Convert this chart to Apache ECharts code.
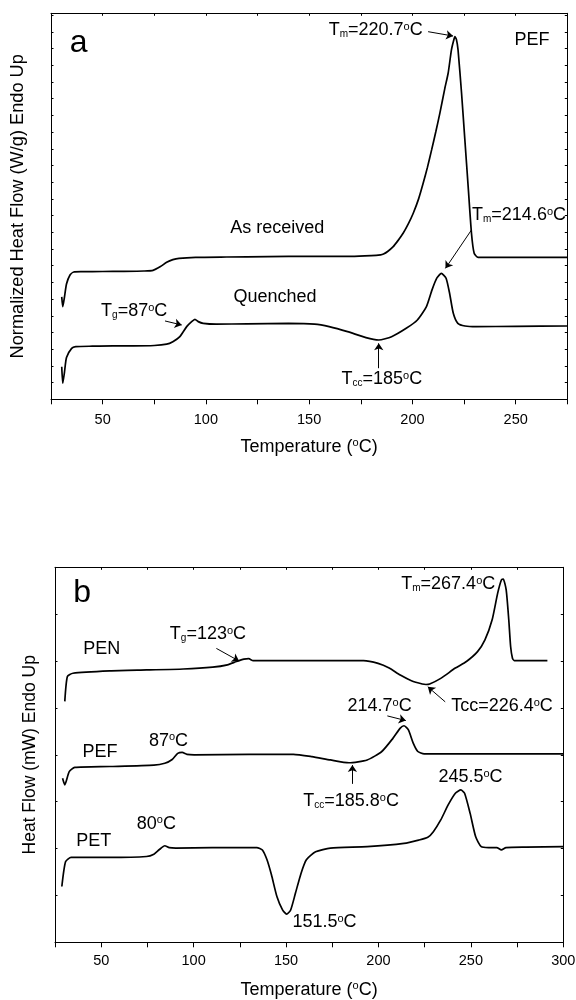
<!DOCTYPE html>
<html>
<head>
<meta charset="utf-8">
<script src="https://cdn.jsdelivr.net/npm/echarts@6/dist/echarts.min.js"></script>
<style>
  html, body { margin: 0; padding: 0; background: #fff; }
  #chart { width: 576px; height: 1000px; }
</style>
</head>
<body>
<div id="chart"></div>
<script>
const FONT = '"Liberation Sans", Arial, Helvetica, sans-serif';

// ---- panel a : PEF, heat flow in tick units ----
const recvT = [30.2, 30.7, 31.5, 32.5, 34.2, 36, 40, 50, 60, 70, 74.4, 78, 81, 84, 87, 95, 110, 130, 150, 170, 180, 184.6, 186, 188, 190.7, 193, 195.5, 198, 200.4, 203, 205.2, 207.3, 209.3, 211.3, 213.3, 215.7, 217.3, 218.9, 220, 220.6, 221.3, 222.1, 223.8, 225.4, 227, 228.6, 229.9, 231.8, 240, 260, 275];
const recvH = [6.13, 5.54, 6.1, 6.9, 7.44, 7.62, 7.64, 7.65, 7.66, 7.68, 7.72, 7.95, 8.2, 8.36, 8.44, 8.5, 8.52, 8.54, 8.56, 8.56, 8.6, 8.65, 8.7, 8.85, 9.14, 9.5, 9.94, 10.5, 11.14, 12.0, 12.93, 13.9, 14.93, 16.0, 17.13, 18.62, 19.52, 20.92, 21.5, 21.71, 21.55, 20.92, 18.32, 15.53, 12.73, 9.94, 8.74, 8.5, 8.5, 8.5, 8.5];
const quenT = [30.2, 30.7, 31.5, 32.5, 35, 37, 45, 55, 65, 75, 81, 84, 87.4, 90.7, 93.1, 94.7, 96.3, 98.7, 105, 120, 140, 152.6, 159.7, 168.6, 177.5, 183.7, 189.9, 197, 202.4, 206.8, 209.5, 211.8, 214, 216.3, 218, 219.8, 222, 225.5, 230.8, 250, 275];
const quenH = [1.95, 0.96, 1.6, 2.5, 3.05, 3.15, 3.18, 3.2, 3.2, 3.22, 3.3, 3.45, 3.75, 4.35, 4.65, 4.79, 4.65, 4.55, 4.5, 4.52, 4.54, 4.5, 4.35, 4.05, 3.69, 3.55, 3.75, 4.25, 4.75, 5.55, 6.55, 7.25, 7.54, 7.25, 6.35, 5.15, 4.55, 4.39, 4.35, 4.37, 4.39];

// ---- panel b : PEN / PEF / PET ----
const penT = [30.3, 31.7, 34.7, 54.6, 74.5, 94.4, 110.3, 118.3, 123.2, 127.2, 129.8, 132.2, 140, 170, 191.9, 199.8, 205.8, 211.8, 217.8, 223.7, 225.7, 227.7, 233.7, 241.6, 247.6, 253.6, 257.6, 261.5, 264.5, 266.5, 267.5, 269.1, 270.5, 271.5, 272.5, 273.5, 280, 291.4];
const penH = [5.14, 5.67, 5.74, 5.79, 5.81, 5.83, 5.87, 5.92, 5.99, 6.04, 6.05, 6.01, 6.01, 6.01, 6.01, 5.95, 5.85, 5.7, 5.58, 5.51, 5.5, 5.51, 5.63, 5.85, 5.99, 6.2, 6.45, 6.88, 7.45, 7.73, 7.75, 7.52, 6.88, 6.31, 6.06, 6.01, 6.01, 6.01];
const pefT = [29.1, 30.3, 32.7, 35.7, 54.6, 78.5, 84.4, 88.4, 91.4, 93.8, 96.4, 100.3, 130, 154, 164, 174, 184, 193.9, 201.8, 207.8, 211.8, 213.8, 216.2, 218.8, 221.3, 224.7, 250, 300];
const pefH = [3.5, 3.36, 3.64, 3.73, 3.75, 3.78, 3.82, 3.9, 4.03, 4.05, 4.01, 4.0, 4.01, 4.01, 3.96, 3.89, 3.83, 3.89, 4.07, 4.35, 4.57, 4.62, 4.53, 4.25, 4.07, 4.02, 4.02, 4.02];
const petT = [28.7, 30.7, 33.7, 54.6, 74.5, 78.5, 81.5, 84.4, 86.8, 90.4, 110, 134.2, 137.2, 139.7, 142.1, 145.1, 148.1, 150.3, 152.5, 155.1, 158.1, 161, 166, 174, 193.9, 213.8, 221.7, 226.7, 229.7, 233.7, 237.7, 241.6, 244.6, 246.6, 249.6, 252.6, 255.6, 259.6, 264, 266.5, 269, 280, 300];
const petH = [1.19, 1.72, 1.81, 1.81, 1.83, 1.88, 1.98, 2.06, 2.02, 2.01, 2.02, 2.02, 1.97, 1.76, 1.44, 0.97, 0.69, 0.6, 0.69, 1.05, 1.47, 1.76, 1.93, 2.01, 2.04, 2.11, 2.18, 2.24, 2.36, 2.61, 2.93, 3.18, 3.25, 3.18, 2.75, 2.25, 2.04, 2.02, 2.02, 1.97, 2.02, 2.03, 2.04];

// annotation texts, anchored in data coords [temperature, heat flow]
const notesA = [
  [38.6, 21.3, '{big|a}', 'center'],
  [258.1, 21.5, '{m|PEF}', 'center'],
  [159.7, 22.05, '{m|T}{sub|m}{m|=220.7}{sup|o}{m|C}', 'left'],
  [229.1, 10.98, '{m|T}{sub|m}{m|=214.6}{sup|o}{m|C}', 'left'],
  [112.0, 10.23, '{m|As received}', 'left'],
  [113.6, 6.07, '{m|Quenched}', 'left'],
  [49.5, 5.25, '{m|T}{sub|g}{m|=87}{sup|o}{m|C}', 'left'],
  [165.9, 1.16, '{m|T}{sub|cc}{m|=185}{sup|o}{m|C}', 'left']
];
const arrowsA = [
  [207.6, 22.01, 219.7, 21.75],
  [228.6, 10.14, 216.0, 7.84],
  [80.2, 4.69, 88.3, 4.45],
  [183.7, 1.86, 183.7, 3.35]
];
const notesB = [
  [39.9, 7.43, '{big|b}', 'center'],
  [212.6, 7.63, '{m|T}{sub|m}{m|=267.4}{sup|o}{m|C}', 'left'],
  [87.4, 6.56, '{m|T}{sub|g}{m|=123}{sup|o}{m|C}', 'left'],
  [40.6, 6.24, '{m|PEN}', 'left'],
  [239.6, 5.02, '{m|Tcc=226.4}{sup|o}{m|C}', 'left'],
  [183.5, 5.03, '{m|214.7}{sup|o}{m|C}', 'left'],
  [76.1, 4.29, '{m|87}{sup|o}{m|C}', 'left'],
  [40.2, 4.04, '{m|PEF}', 'left'],
  [159.6, 3.0, '{m|T}{sub|cc}{m|=185.8}{sup|o}{m|C}', 'left'],
  [232.7, 3.51, '{m|245.5}{sup|o}{m|C}', 'left'],
  [69.5, 2.52, '{m|80}{sup|o}{m|C}', 'left'],
  [36.7, 2.16, '{m|PET}', 'left'],
  [153.7, 0.42, '{m|151.5}{sup|o}{m|C}', 'left']
];
const arrowsB = [
  [112.3, 6.27, 124.6, 6.0],
  [236.1, 5.13, 226.7, 5.45],
  [204.8, 4.83, 214.8, 4.73],
  [185.9, 3.38, 185.9, 3.78]
];

const rich = {
  m:   { fontSize: 18, lineHeight: 18, verticalAlign: 'top', fontFamily: FONT, color: '#000' },
  sup: { fontSize: 11, lineHeight: 10, verticalAlign: 'top', fontFamily: FONT, color: '#000' },
  sub: { fontSize: 10, lineHeight: 10, verticalAlign: 'bottom', padding: [15, 0, 0, 0], fontFamily: FONT, color: '#000' },
  big: { fontSize: 32, lineHeight: 32, verticalAlign: 'top', fontFamily: FONT, color: '#000' }
};

const zip = (t, h) => t.map((v, i) => [v, h[i]]);
const black = { color: '#000', width: 1 };

function xAxes(g, max, margin) {
  return [
    {
      gridIndex: g, type: 'value', min: 25, max: max, interval: 25, position: 'bottom',
      axisLine: { show: true, onZero: false, lineStyle: black },
      axisTick: { show: true, length: 5, lineStyle: black },
      axisLabel: {
        margin: margin, color: '#000', fontSize: 14.5, fontFamily: FONT,
        formatter: v => (v % 50 === 0 ? String(v) : '')
      },
      splitLine: { show: false },
      name: '{m|Temperature (}{sup|o}{m|C)}', nameLocation: 'middle', nameGap: 38.5,
      nameTextStyle: { rich: rich }
    },
    {
      gridIndex: g, type: 'value', min: 25, max: max, interval: 25, position: 'top',
      axisLine: { show: true, onZero: false, lineStyle: black },
      axisTick: { show: true, inside: true, length: 2.5, lineStyle: black },
      axisLabel: { show: false }, splitLine: { show: false }
    }
  ];
}

function yAxes(g, max, name, gap, size) {
  return [
    {
      gridIndex: g, type: 'value', min: 0, max: max, interval: 1, position: 'left',
      axisLine: { show: true, onZero: false, lineStyle: black },
      axisTick: { show: true, inside: true, length: 2.5, lineStyle: black },
      axisLabel: { show: false }, splitLine: { show: false },
      name: name, nameLocation: 'middle', nameGap: gap, nameRotate: 90,
      nameTextStyle: { fontSize: size, fontFamily: FONT, color: '#000' }
    },
    {
      gridIndex: g, type: 'value', min: 0, max: max, interval: 1, position: 'right',
      axisLine: { show: true, onZero: false, lineStyle: black },
      axisTick: { show: true, inside: true, length: 2.5, lineStyle: black },
      axisLabel: { show: false }, splitLine: { show: false }
    }
  ];
}

function curve(t, h, xi, yi, arrows) {
  const s = {
    type: 'line', xAxisIndex: xi, yAxisIndex: yi, data: zip(t, h),
    symbol: 'none', smooth: 0.2, silent: true,
    lineStyle: { color: '#000', width: 1.7 }
  };
  if (arrows) {
    s.markLine = {
      silent: true, animation: false, symbol: ['none', 'arrow'], symbolSize: 7,
      label: { show: false },
      lineStyle: { color: '#000', width: 1, type: 'solid' },
      data: arrows.map(a => [{ coord: [a[0], a[1]] }, { coord: [a[2], a[3]] }])
    };
  }
  return s;
}

function notes(list, xi, yi) {
  return {
    type: 'scatter', xAxisIndex: xi, yAxisIndex: yi, silent: true,
    symbolSize: 1, itemStyle: { color: 'rgba(0,0,0,0)' },
    data: list.map(n => ({
      value: [n[0], n[1]],
      label: {
        show: true, position: [0, 0], align: n[3], verticalAlign: 'top',
        color: '#000', opacity: 1, textBorderWidth: 0,
        offset: [0, n[2].indexOf('{big|') === 0 ? -16 : -9],
        formatter: n[2], rich: rich
      }
    }))
  };
}

const chart = echarts.init(document.getElementById('chart'), null, { renderer: 'canvas' });
chart.setOption({
  animation: false,
  backgroundColor: '#fff',
  textStyle: { fontFamily: FONT, color: '#000' },
  grid: [
    { left: 51, top: 13.3, width: 516.3, height: 386, outerBoundsMode: 'none' },
    { left: 55, top: 567.3, width: 508.3, height: 375, outerBoundsMode: 'none' }
  ],
  xAxis: [].concat(xAxes(0, 275, 13), xAxes(1, 300, 11)),
  yAxis: [].concat(
    yAxes(0, 23.11, 'Normalized Heat Flow (W/g) Endo Up', 24, 18.2),
    yAxes(1, 8, 'Heat Flow (mW) Endo Up', 16, 17.5)
  ),
  series: [
    curve(recvT, recvH, 0, 0, arrowsA),
    curve(quenT, quenH, 0, 0, null),
    notes(notesA, 0, 0),
    curve(penT, penH, 2, 2, arrowsB),
    curve(pefT, pefH, 2, 2, null),
    curve(petT, petH, 2, 2, null),
    notes(notesB, 2, 2)
  ]
});
</script>
</body>
</html>
